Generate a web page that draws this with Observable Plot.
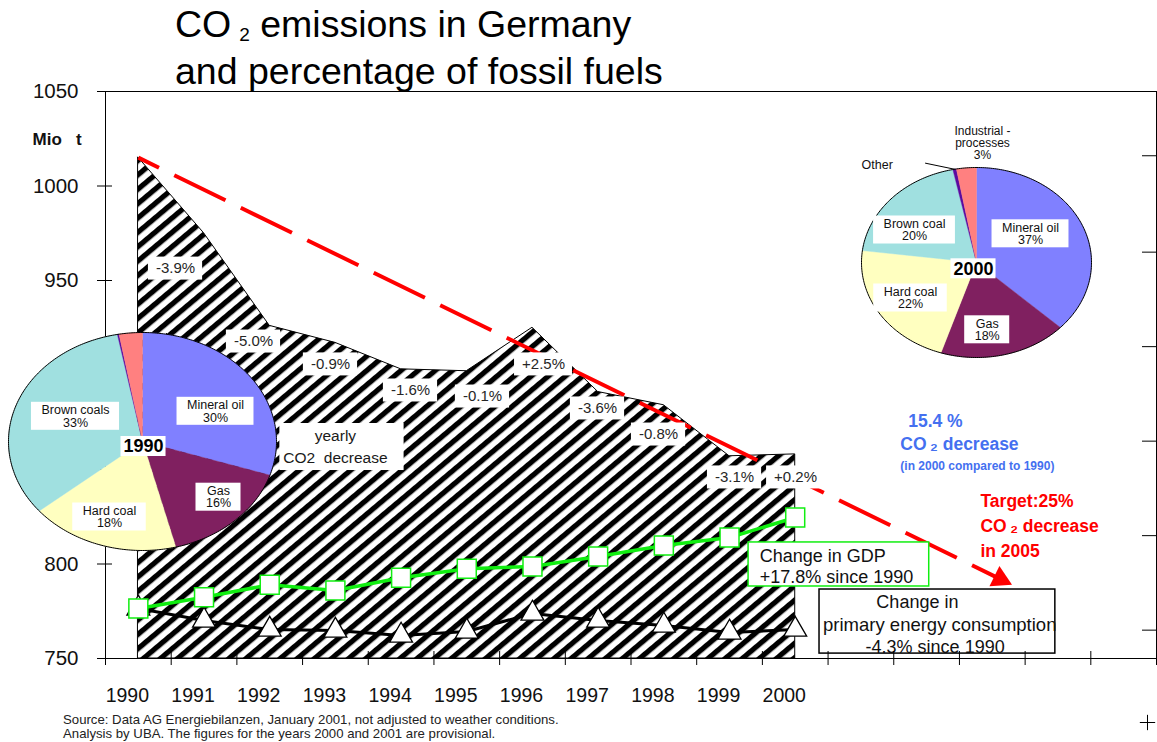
<!DOCTYPE html>
<html>
<head>
<meta charset="utf-8">
<script src="https://cdn.jsdelivr.net/npm/d3@7"></script>
<script src="https://cdn.jsdelivr.net/npm/@observablehq/plot@0.6"></script>
<style>
  body { margin: 0; background: #fff; font-family: "Liberation Sans", Arial, sans-serif; }
  #wrap { position: relative; width: 1157px; height: 742px; overflow: hidden; background: #fff; }
  #chart { position: absolute; left: 0; top: 0; }
  #title { position: absolute; left: 175px; top: 4px; font-size: 37.5px; line-height: 40px; white-space: nowrap; color: #000; }
  #title sub { font-size: 19px; vertical-align: baseline; position: relative; top: 4px; margin-left: 8px; }
  #source { position: absolute; left: 63px; top: 713px; font-size: 13.2px; line-height: 14px; color: #222; white-space: nowrap; }
</style>
</head>
<body>
<div id="wrap">
  <div id="chart"></div>
  <div id="title">CO<sub>2</sub> emissions in Germany<br>and percentage of fossil fuels</div>
  <div id="source">Source: Data AG Energiebilanzen, January 2001, not adjusted to weather conditions.<br>Analysis by UBA. The figures for the years 2000 and 2001 are provisional.</div>
</div>
<script>
// ---------------- DATA ----------------
const years = [1990, 1991, 1992, 1993, 1994, 1995, 1996, 1997, 1998, 1999, 2000];
const emissions = [1015, 975, 926, 917, 903, 902, 925, 891, 884, 857, 858]; // Mio t CO2
const gdpLine = [776.5, 782.4, 789.0, 786.0, 792.7, 797.5, 798.7, 804.0, 809.8, 814.0, 824.6];
const energyLine = [776.5, 770.1, 765.3, 764.8, 762.2, 764.3, 773.8, 770.1, 767.5, 763.8, 765.3];
const changeLabels = ["-3.9%", "-5.0%", "-0.9%", "-1.6%", "-0.1%", "+2.5%", "-3.6%", "-0.8%", "-3.1%", "+0.2%"];
const yTickValues = [750, 800, 850, 900, 950, 1000, 1050];
const rightTickValues = [765, 815, 865, 915, 965, 1016];
const xTickLabels = years;
const targetStart = [1990, 1015];
const targetEnd = [2003.3, 789];

const pieCategories = ["Mineral oil", "Gas", "Hard coal", "Brown coal", "Other", "Industrial processes"];
const shares1990 = [30, 16, 18, 33, 0.2, 2.8];
const shares2000 = [37, 18, 22, 19.7, 0.5, 2.8];
const pieLabels1990 = ["Mineral oil\n30%", "Gas\n16%", "Hard coal\n18%", "Brown coals\n33%"];
const pieLabels2000 = ["Mineral oil\n37%", "Gas\n18%", "Hard coal\n22%", "Brown coal\n20%"];

// ---------------- STYLE / LAYOUT ----------------
const FONT = "'Liberation Sans', Arial, sans-serif";
const pieColors = ["#8080ff", "#802060", "#ffffc0", "#a0e0e0", "#5a0aa0", "#ff8080"];
const W = 1157, H = 742;
const M = {top: 91, right: 1, bottom: 84, left: 105};
const xDomain = [1989.5, 2005.5], yDomain = [750, 1050];
const pxX = (W - M.left - M.right) / (xDomain[1] - xDomain[0]);
const pxY = (H - M.top - M.bottom) / (yDomain[1] - yDomain[0]);
const changeLabelPos = [[1990.566, 956.3], [1991.753, 917.7], [1992.925, 905.6], [1994.143, 891.8], [1995.239, 888.6],
                        [1996.168, 905.6], [1996.99, 882.3], [1997.919, 868.5], [1999.076, 845.8], [2000.005, 845.8]];

const ctx = document.createElement("canvas").getContext("2d");
function measure(lines, size, weight) {
  ctx.font = `${weight || "normal"} ${size}px ${FONT}`;
  return Math.max(...lines.map(l => ctx.measureText(l).width));
}
// white box + text; kx, ky = pixels per unit in the plot's coordinates
function boxed(text, x, y, o, kx, ky) {
  const size = o.size || 15, weight = o.weight || "normal", lh = o.lineHeight || 1;
  const lines = text.split("\n");
  const w = measure(lines, size, weight) + 2 * (o.padX ?? 7);
  const h = lines.length * lh * size + 2 * (o.padY ?? 4);
  const bx = o.boxX ?? x, by = o.boxY ?? y;
  return [
    Plot.rect([0], {x1: bx - w / 2 / kx, x2: bx + w / 2 / kx, y1: by - h / 2 / ky, y2: by + h / 2 / ky, fill: "white"}),
    Plot.text([text], {x, y, text: d => d, fontSize: size, fontWeight: weight, lineHeight: lh, fill: o.color || "#222"})
  ];
}

// ---------------- MAIN CHART ----------------
const hatchDefs = () => {
  const defs = d3.create("svg:defs");
  const p = defs.append("pattern").attr("id", "hatch").attr("patternUnits", "userSpaceOnUse")
    .attr("width", 11).attr("height", 11).attr("patternTransform", "rotate(-40)");
  p.append("rect").attr("width", 11).attr("height", 11).attr("fill", "white");
  p.append("rect").attr("width", 11).attr("height", 5.3).attr("fill", "black");
  return defs.node();
};

// arrow head geometry (in pixels -> data)
const dxPx = (targetEnd[0] - targetStart[0]) * pxX;
const dyPx = (targetStart[1] - targetEnd[1]) * pxY;
const ang = Math.atan2(dyPx, dxPx);
const headBack = 13;
const headPt = [targetEnd[0] - headBack * Math.cos(ang) / pxX, targetEnd[1] + headBack * Math.sin(ang) / pxY];

const GREEN = "#11ee11";
const BLUE = "#4470f0";
const RED = "#ff0000";

const main = Plot.plot({
  width: W, height: H,
  marginTop: M.top, marginRight: M.right, marginBottom: M.bottom, marginLeft: M.left,
  x: {domain: xDomain, label: null},
  y: {domain: yDomain, label: null},
  style: {fontFamily: FONT, background: "transparent", overflow: "visible"},
  marks: [
    hatchDefs,
    Plot.areaY(years, {x: years, y1: 750, y2: emissions, fill: "url(#hatch)", stroke: "black", strokeWidth: 1}),
    Plot.line([targetStart, headPt], {x: d => d[0], y: d => d[1], stroke: RED, strokeWidth: 4,
      strokeDasharray: "57,17", strokeDashoffset: 34, strokeLinecap: "butt"}),
    Plot.dot([headPt], {x: d => d[0], y: d => d[1], symbol: "triangle", r: 8.4, fill: RED,
      rotate: 90 + ang * 180 / Math.PI}),
    Plot.line(years, {x: years, y: energyLine, stroke: "black", strokeWidth: 3}),
    Plot.dot(years, {x: years, y: energyLine, symbol: "triangle", r: 8.5, fill: "white", stroke: "black", strokeWidth: 1.3}),
    Plot.line(years, {x: years, y: gdpLine, stroke: GREEN, strokeWidth: 3.5}),
    Plot.dot(years, {x: years, y: gdpLine, symbol: "square", r: 10.7, fill: "white", stroke: GREEN, strokeWidth: 1.5}),
    // yearly change labels
    ...changeLabels.flatMap((t, i) => boxed(t, changeLabelPos[i][0], changeLabelPos[i][1], {size: 15, padX: 7.5, padY: 4, color: "#262626"}, pxX, pxY)),
    ...boxed("yearly\nCO2\u00a0\u00a0decrease", 1993.0, 863.2, {size: 15.5, lineHeight: 1.42, padX: 10, padY: 1.5, boxX: 1993.1, boxY: 861.9, color: "#1a1a1a"}, pxX, pxY),
    // GDP box
    Plot.rect([0], {x1: 1999.29, x2: 2002.04, y1: 788.1, y2: 811.4, fill: "white", stroke: GREEN, strokeWidth: 1.5}),
    Plot.text(["Change in GDP\n+17.8% since 1990"], {x: 1999.46, y: 799.2, text: d => d, textAnchor: "start", fontSize: 18, lineHeight: 1.2, fill: "#111"}),
    // energy box
    Plot.rect([0], {x1: 2000.37, x2: 2003.96, y1: 752.6, y2: 786.5, fill: "white", stroke: "black", strokeWidth: 1.5}),
    Plot.text(["Change in"], {x: 2001.86, y: 779.6, text: d => d, fontSize: 18, fill: "#111"}),
    Plot.text(["primary energy consumption"], {x: 2002.2, y: 767.5, text: d => d, fontSize: 18.5, fill: "#111"}),
    Plot.text(["-4.3% since 1990"], {x: 2002.13, y: 755.8, text: d => d, fontSize: 18, fill: "#111"}),
    // blue note
    Plot.text(["15.4 %"], {x: 2001.72, y: 875.4, text: d => d, textAnchor: "start", fontSize: 17.5, fontWeight: "bold", fill: BLUE}),
    Plot.text(["CO\u2009\u2082 decrease"], {x: 2001.60, y: 863.2, text: d => d, textAnchor: "start", fontSize: 17.5, fontWeight: "bold", fill: BLUE}),
    Plot.text(["(in 2000 compared to 1990)"], {x: 2001.60, y: 851.6, text: d => d, textAnchor: "start", fontSize: 12, fontWeight: "bold", fill: BLUE}),
    // red note
    Plot.text(["Target:25%"], {x: 2002.82, y: 833.1, text: d => d, textAnchor: "start", fontSize: 17.5, fontWeight: "bold", fill: RED}),
    Plot.text(["CO\u2009\u2082 decrease"], {x: 2002.82, y: 819.8, text: d => d, textAnchor: "start", fontSize: 17.5, fontWeight: "bold", fill: RED}),
    Plot.text(["in 2005"], {x: 2002.82, y: 806.6, text: d => d, textAnchor: "start", fontSize: 17.5, fontWeight: "bold", fill: RED}),
    // axes
    Plot.frame({stroke: "black", strokeWidth: 1}),
    Plot.axisY({ticks: yTickValues, tickSize: 15, dx: 7, tickPadding: 19, fontSize: 20.5, tickFormat: d => String(d), fill: "#111"}),
    Plot.axisY({anchor: "right", ticks: rightTickValues, tickSize: 15, dx: -15, tickFormat: () => ""}),
    Plot.axisX({ticks: d3.range(xDomain[0], xDomain[1] + 0.01, 1), tickSize: 14, dy: -7, tickFormat: () => ""}),
    Plot.axisX({ticks: xTickLabels, tickSize: 0, tickPadding: 30, dx: -11, fontSize: 19.5, tickFormat: d => String(d), fill: "#111"}),
    Plot.text(["Mio\u00a0\u00a0\u00a0t"], {frameAnchor: "top-left", dx: -73, dy: 41, textAnchor: "start", fontSize: 17, fontWeight: "bold", fill: "#111"}),
    Plot.dot([0], {frameAnchor: "bottom-right", dx: -9, dy: 64, symbol: "plus", r: 5, stroke: "black", strokeWidth: 1, fill: "none"})
  ]
});
document.getElementById("chart").append(main);

// ---------------- PIES ----------------
function makePie(shares, cfg) {
  const arcs = d3.pie().sort(null).value(d => d)(shares);
  const marks = [];
  arcs.forEach((a, i) => {
    const pts = [[0, 0]];
    const n = Math.max(4, Math.ceil((a.endAngle - a.startAngle) / 0.01));
    for (let k = 0; k <= n; k++) {
      const t = a.startAngle + (a.endAngle - a.startAngle) * k / n;
      pts.push([cfg.rx * Math.sin(t), cfg.ry * Math.cos(t)]);
    }
    pts.push([0, 0]);
    marks.push(Plot.line(pts, {x: d => d[0], y: d => d[1], fill: pieColors[i], stroke: pieColors[i], strokeWidth: 0.4, curve: "linear"}));
  });
  const ring = d3.range(0, 361).map(deg => [cfg.rx * Math.sin(deg * Math.PI / 180), cfg.ry * Math.cos(deg * Math.PI / 180)]);
  marks.push(Plot.line(ring, {x: d => d[0], y: d => d[1], stroke: "black", strokeWidth: 1}));
  cfg.labels.forEach((t, i) => marks.push(...boxed(t, cfg.labelPos[i][0], cfg.labelPos[i][1], {size: 12.5, lineHeight: 1, padX: 10, padY: 1.5, color: "#111"}, 1, 1)));
  marks.push(...boxed(cfg.year, cfg.yearPos[0], cfg.yearPos[1], {size: 18, weight: "bold", padX: 2.5, padY: 1, color: "#000"}, 1, 1));
  if (cfg.extra) marks.push(...cfg.extra(arcs));
  const svg = Plot.plot({
    width: cfg.xd[1] - cfg.xd[0], height: cfg.yd[1] - cfg.yd[0], margin: 0,
    x: {domain: cfg.xd, axis: null}, y: {domain: cfg.yd, axis: null},
    style: {fontFamily: FONT, background: "transparent", overflow: "visible"},
    marks
  });
  svg.style.position = "absolute";
  svg.style.left = (cfg.cx + cfg.xd[0]) + "px";
  svg.style.top = (cfg.cy - cfg.yd[1]) + "px";
  document.getElementById("wrap").append(svg);
}

makePie(shares1990, {
  cx: 142, cy: 441, rx: 134, ry: 109, xd: [-140, 140], yd: [-115, 115],
  labels: pieLabels1990,
  labelPos: [[73, 30.2], [76, -55.7], [-33, -75.5], [-67, 25.2]],
  year: "1990", yearPos: [1, -5]
});

makePie(shares2000, {
  cx: 976, cy: 262, rx: 115, ry: 95, xd: [-136, 134], yd: [-103, 150],
  labels: pieLabels2000,
  labelPos: [[54, 28.7], [10.7, -67.3], [-66, -35.5], [-62, 32.5]],
  year: "2000", yearPos: [-3, -6.3],
  extra: (arcs) => {
    const o = arcs[4];
    const mid = (o.startAngle + o.endAngle) / 2;
    const edge = [115 * Math.sin(mid), 95 * Math.cos(mid)];
    return [
      Plot.line([[-51, 99.3], edge], {x: d => d[0], y: d => d[1], stroke: "black", strokeWidth: 1}),
      Plot.text(["Other"], {x: -99.3, y: 97.7, text: d => d, fontSize: 12.5, fill: "#111"}),
      Plot.text([`Industrial -\nprocesses\n${Math.round(shares2000[5])}%`], {x: 6, y: 119.7, text: d => d, fontSize: 12, lineHeight: 1, fill: "#111"})
    ];
  }
});
</script>
</body>
</html>
